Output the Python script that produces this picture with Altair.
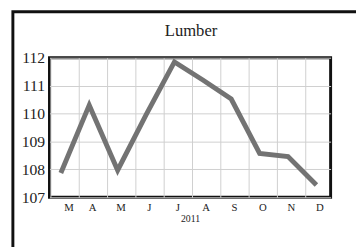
import altair as alt
import pandas as pd

months = ["M", "A", "M", "J", "J", "A", "S", "O", "N", "D"]
month_num = [3, 4, 5, 6, 7, 8, 9, 10, 11, 12]
values = [107.87, 110.3, 107.97, 109.95, 111.85, 111.2, 110.52, 108.57, 108.46, 107.44]
y_ticks = [107, 108, 109, 110, 111, 112]
grid_x = [2.62, 3.62, 4.62, 5.62, 6.62, 7.62, 8.62, 9.62, 10.62, 11.62]

df = pd.DataFrame({"m": month_num, "v": values})

label_map = "{" + ",".join(f"'{n}':'{l}'" for n, l in zip(month_num, months)) + "}"

FONT = "Liberation Serif"

line = alt.Chart(df).mark_line(color="#737373", strokeWidth=5, strokeJoin="miter").encode(
    x=alt.X("m:Q", scale=alt.Scale(domain=[2.6, 12.5], nice=False, zero=False),
            axis=alt.Axis(values=grid_x, grid=True, gridColor="#cfcfcf", gridWidth=1,
                          ticks=False, domain=False,
                          labelExpr=f"{label_map}[floor(datum.value) + 1]",
                          labelOffset=14, labelPadding=5, labelFont=FONT, labelFontSize=11,
                          labelColor="#222", title="2011", titleFont=FONT, titleFontSize=10,
                          titleFontWeight="normal", titleColor="#222", titlePadding=1)),
    y=alt.Y("v:Q", scale=alt.Scale(domain=[107, 112], nice=False, zero=False),
            axis=alt.Axis(values=y_ticks, grid=True, gridColor="#cfcfcf", gridWidth=1,
                          ticks=False, domain=False, labelPadding=5, labelFont=FONT,
                          labelFontSize=16, labelColor="#222", title=None)),
)

frame = alt.Chart(alt.Data(values=[{}])).mark_rect(
    fill=None, stroke="#111", strokeWidth=3, clip=False
).encode(x=alt.value(-37.5), x2=alt.value(420), y=alt.value(-47), y2=alt.value(320))

chart = alt.layer(line, frame).properties(
    width=288, height=143,
    title=alt.TitleParams("Lumber", font=FONT, fontSize=17, fontWeight="normal",
                          color="#222", anchor="middle", frame="group", dx=1, offset=-30.5),
    autosize=alt.AutoSizeParams(type="none"),
    padding={"left": 42.5, "top": 48, "right": 26, "bottom": 48},
).configure_view(stroke="#111", strokeWidth=3)

chart.save("out.html", embed_options={"renderer": "svg", "actions": False})
